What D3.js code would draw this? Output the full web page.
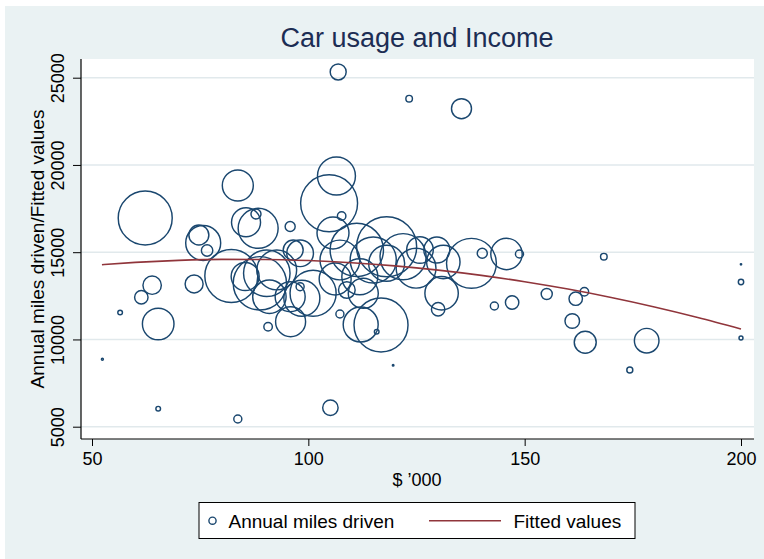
<!DOCTYPE html>
<html>
<head>
<meta charset="utf-8">
<script src="https://cdn.jsdelivr.net/npm/d3@7"></script>
<style>
  html, body { margin: 0; padding: 0; background: #ffffff; }
  svg { display: block; }
  text { font-family: "Liberation Sans", Arial, Helvetica, sans-serif; }
</style>
</head>
<body>
<div id="chart"></div>
<script>
// Household income ($ '000), annual miles driven and household weight
const income = [
  62.3, 83.7, 74.7, 75.7, 76.6, 85.6, 88.4, 87.9, 95.8, 82.2,
  73.6, 63.9, 61.4, 65.3, 56.5, 90.7, 85.4, 88.8, 91.0, 95.8,
  95.9, 92.7, 98.1, 107.3, 112.1, 116.8, 115.8, 119.6, 105.1, 130.0,
  130.8, 143.0, 147.1, 155.1, 148.8, 140.2, 145.8, 168.3, 200, 200,
  161.8, 163.8, 161.0, 164.0, 178.2, 174.3, 200, 52.4, 65.3, 83.7,
  106.9, 123.3, 135.4, 106.5, 104.8, 107.7, 105.7, 111.2, 118.1, 115.0,
  121.9, 125.8, 129.7, 131.2, 137.7, 112.7, 101.1, 108.9, 98.1, 107.3,
  96.5, 98.5, 90.4, 124.9, 106.2, 111.9, 118.1
];
const miles = [
  16961, 18824, 15987, 15528, 15098, 16714, 16370, 17190, 16473, 13637,
  13178, 13110, 12416, 10886, 11545, 10731, 13608, 13218, 12450, 12450,
  11018, 13981, 13023, 11459, 10857, 10828, 10444, 8519, 6089, 11728,
  12645, 11917, 12118, 12605, 14897, 14937, 14897, 14743, 14307, 13293,
  12336, 12737, 11058, 9837, 9929, 8249, 10083, 8863, 6032, 5441,
  25328, 23798, 23225, 19367, 17803, 17075, 16101, 15127, 15316, 14553,
  14743, 15127, 15127, 14439, 14364, 12645, 12645, 12834, 14937, 14553,
  15127, 12359, 13791, 14083, 13465, 13597, 14364
];
const weight = [
  81, 26.7, 11.1, 34, 3.6, 23.4, 44.4, 2.8, 2.8, 78,
  9, 9.4, 5, 27.7, 0.6, 2, 21.8, 79, 31, 25,
  25, 44, 1.8, 1.8, 34, 81, 0.6, 0.07, 6.6, 5,
  31, 1.8, 5, 3.4, 1.8, 2.8, 27.4, 1.2, 0.05, 0.8,
  5, 2, 5.9, 13.4, 16.8, 1, 0.44, 0.11, 0.6, 1.8,
  7.1, 1.2, 11.1, 40, 90, 2, 28.4, 79, 100, 59,
  59, 19.7, 18.8, 31, 69, 25, 59, 7.7, 19.7, 44,
  11.1, 36, 60, 44, 28.4, 36, 36
];

// Quadratic fit of miles on income
const fitIncome = [52.3, 60, 70, 80, 90, 100, 110, 120, 130, 140, 150, 160, 170, 180, 190, 200];
const fitMiles  = [14284, 14415, 14531, 14588, 14585, 14522, 14399, 14217, 13974, 13672, 13309, 12887, 12405, 11863, 11261, 10599];

const xTicks = [50, 100, 150, 200];
const yTicks = [5000, 10000, 15000, 20000, 25000];

const W = 764, H = 559;
const plot = { left: 81, right: 754, top: 59, bottom: 439 };

const COL_BG = "#eaf2f3";
const COL_GRID = "#e1e9ec";
const COL_MARK = "#1a476f";
const COL_FIT = "#90353b";
const COL_TITLE = "#1c2d54";

const svg = d3.select("#chart").append("svg")
  .attr("width", W).attr("height", H);

// graph region
svg.append("rect").attr("x", 5).attr("y", 6).attr("width", W - 5).attr("height", H - 6)
  .attr("fill", COL_BG);

// plot region
svg.append("rect")
  .attr("x", plot.left).attr("y", plot.top)
  .attr("width", plot.right - plot.left).attr("height", plot.bottom - plot.top)
  .attr("fill", "#ffffff");

const x = d3.scaleLinear().domain([50, 200]).range([92, 741]);
const y = d3.scaleLinear().domain([5000, 25000]).range([426.7, 77.7]);
const r = d3.scaleSqrt().domain([0, 100]).range([0, 30]);

// horizontal grid
svg.append("g").selectAll("line").data(yTicks).join("line")
  .attr("x1", plot.left).attr("x2", plot.right)
  .attr("y1", d => y(d)).attr("y2", d => y(d))
  .attr("stroke", COL_GRID).attr("stroke-width", 1.5);

// bubbles
const pts = income.map((v, i) => ({ inc: v, mi: miles[i], w: weight[i] }));
svg.append("g").selectAll("circle").data(pts).join("circle")
  .attr("cx", d => x(d.inc)).attr("cy", d => y(d.mi))
  .attr("r", d => Math.max(r(d.w), 0.6))
  .attr("fill", "none").attr("stroke", COL_MARK).attr("stroke-width", 1.45);

// fitted values
const fit = fitIncome.map((v, i) => [v, fitMiles[i]]);
svg.append("path").datum(fit)
  .attr("d", d3.line().x(d => x(d[0])).y(d => y(d[1])).curve(d3.curveMonotoneX))
  .attr("fill", "none").attr("stroke", COL_FIT).attr("stroke-width", 1.6);

// axes
const xAxis = svg.append("g").attr("transform", `translate(0,${plot.bottom})`)
  .call(d3.axisBottom(x).tickValues(xTicks).tickSize(7).tickPadding(5).tickFormat(d3.format("d")));
xAxis.select(".domain").attr("d", `M${plot.left},0H${plot.right}`).attr("stroke", "#000").attr("stroke-width", 1.2);
xAxis.selectAll(".tick line").attr("stroke", "#000").attr("stroke-width", 1);
xAxis.selectAll(".tick text").attr("font-size", 18).attr("fill", "#000")
  .attr("dy", null).attr("y", 26);

const yAxis = svg.append("g").attr("transform", `translate(${plot.left},0)`)
  .call(d3.axisLeft(y).tickValues(yTicks).tickSize(8).tickFormat(d3.format("d")));
yAxis.select(".domain").attr("d", `M0,${plot.top}V${plot.bottom}`).attr("stroke", "#000").attr("stroke-width", 1.2);
yAxis.selectAll(".tick line").attr("stroke", "#000").attr("stroke-width", 1);
yAxis.selectAll(".tick text")
  .attr("font-size", 18).attr("fill", "#000")
  .attr("x", null).attr("dy", null)
  .attr("text-anchor", "middle")
  .attr("transform", "translate(-17,0) rotate(-90)");

// titles
svg.append("text").attr("x", 417).attr("y", 47)
  .attr("text-anchor", "middle").attr("font-size", 27).attr("fill", COL_TITLE)
  .text("Car usage and Income");

svg.append("text").attr("x", 417).attr("y", 486)
  .attr("text-anchor", "middle").attr("font-size", 18).attr("fill", "#000")
  .text("$ \u2019000");

svg.append("text")
  .attr("transform", `translate(43.5,${(plot.top + plot.bottom) / 2}) rotate(-90)`)
  .attr("text-anchor", "middle").attr("font-size", 19).attr("fill", "#000")
  .text("Annual miles driven/Fitted values");

// legend
const lg = svg.append("g");
lg.append("rect").attr("x", 199).attr("y", 502.5).attr("width", 436).attr("height", 36)
  .attr("fill", "#ffffff").attr("stroke", "#000").attr("stroke-width", 1);
lg.append("circle").attr("cx", 212.5).attr("cy", 520.7).attr("r", 3.6)
  .attr("fill", "none").attr("stroke", COL_MARK).attr("stroke-width", 1.4);
lg.append("text").attr("x", 228.5).attr("y", 527.5).attr("font-size", 19).attr("fill", "#000")
  .text("Annual miles driven");
lg.append("line").attr("x1", 429).attr("x2", 501).attr("y1", 520.7).attr("y2", 520.7)
  .attr("stroke", COL_FIT).attr("stroke-width", 1.6);
lg.append("text").attr("x", 513.5).attr("y", 527.5).attr("font-size", 19).attr("fill", "#000")
  .text("Fitted values");
</script>
</body>
</html>
